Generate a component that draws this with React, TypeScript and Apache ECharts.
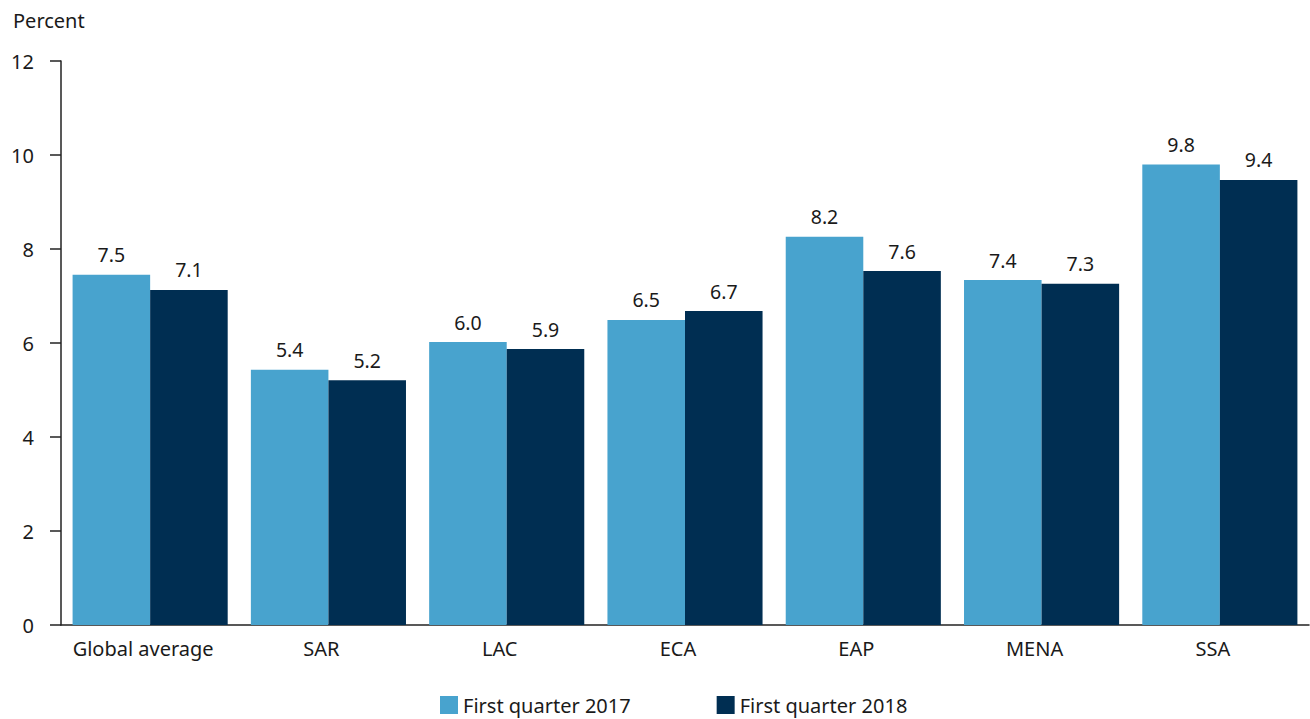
import React, { useEffect, useRef } from "react";
import * as echarts from "echarts";

const categories = ["Global average", "SAR", "LAC", "ECA", "EAP", "MENA", "SSA"];
const values2017 = [7.45, 5.43, 6.02, 6.49, 8.26, 7.34, 9.8];
const values2018 = [7.13, 5.21, 5.87, 6.68, 7.53, 7.26, 9.47];
const labels2017 = ["7.5", "5.4", "6.0", "6.5", "8.2", "7.4", "9.8"];
const labels2018 = ["7.1", "5.2", "5.9", "6.7", "7.6", "7.3", "9.4"];
const seriesNames = ["First quarter 2017", "First quarter 2018"];

const FONT = "'Noto Sans', sans-serif";

export default function App() {
  const ref = useRef<HTMLDivElement>(null);
  useEffect(() => {
    if (!ref.current) return;
    const chart = echarts.init(ref.current, null, { renderer: "svg" });
    const labelCfg = (texts: string[]) => ({
      show: true,
      position: "top" as const,
      distance: 10,
      color: "#1a1a1a",
      fontSize: 19.5,
      fontFamily: FONT,
      formatter: (p: any) => texts[p.dataIndex],
    });
    chart.setOption({
      animation: false,
      title: {
        text: "Percent",
        left: 8,
        top: 5,
        textStyle: { fontSize: 20, fontWeight: "normal", color: "#1a1a1a", fontFamily: FONT },
      },
      legend: {
        left: 440,
        top: 695,
        padding: 0,
        itemWidth: 18,
        itemHeight: 18,
        itemGap: 86,
        icon: "rect",
        textStyle: { fontSize: 20, color: "#1a1a1a", fontFamily: FONT, lineHeight: 20 },
        data: seriesNames,
      },
      grid: { left: 61, right: 1, top: 61, bottom: 94, containLabel: false },
      xAxis: {
        type: "category",
        data: categories,
        axisLine: { lineStyle: { color: "#222", width: 1.5 } },
        axisTick: { show: false },
        axisLabel: {
          color: "#1a1a1a",
          fontSize: 20,
          fontFamily: FONT,
          margin: 13,
          padding: [0, 14, 0, 0],
          interval: 0,
        },
      },
      yAxis: {
        type: "value",
        min: 0,
        max: 12,
        interval: 2,
        axisLine: { show: true, lineStyle: { color: "#222", width: 1.5 } },
        axisTick: { show: true, length: 11, lineStyle: { color: "#222", width: 1.5 } },
        splitLine: { show: false },
        axisLabel: { color: "#1a1a1a", fontSize: 20, fontFamily: FONT, margin: 27 },
      },
      series: [
        {
          name: seriesNames[0],
          type: "bar",
          data: values2017,
          barGap: "0%",
          barCategoryGap: "13%",
          itemStyle: { color: "#48A3CE" },
          label: labelCfg(labels2017),
        },
        {
          name: seriesNames[1],
          type: "bar",
          data: values2018,
          barGap: "0%",
          barCategoryGap: "13%",
          itemStyle: { color: "#002E52" },
          label: labelCfg(labels2018),
        },
      ],
    });
    return () => chart.dispose();
  }, []);
  return <div ref={ref} style={{ width: 1310, height: 719, position: "absolute", left: 0, top: 0 }} />;
}
